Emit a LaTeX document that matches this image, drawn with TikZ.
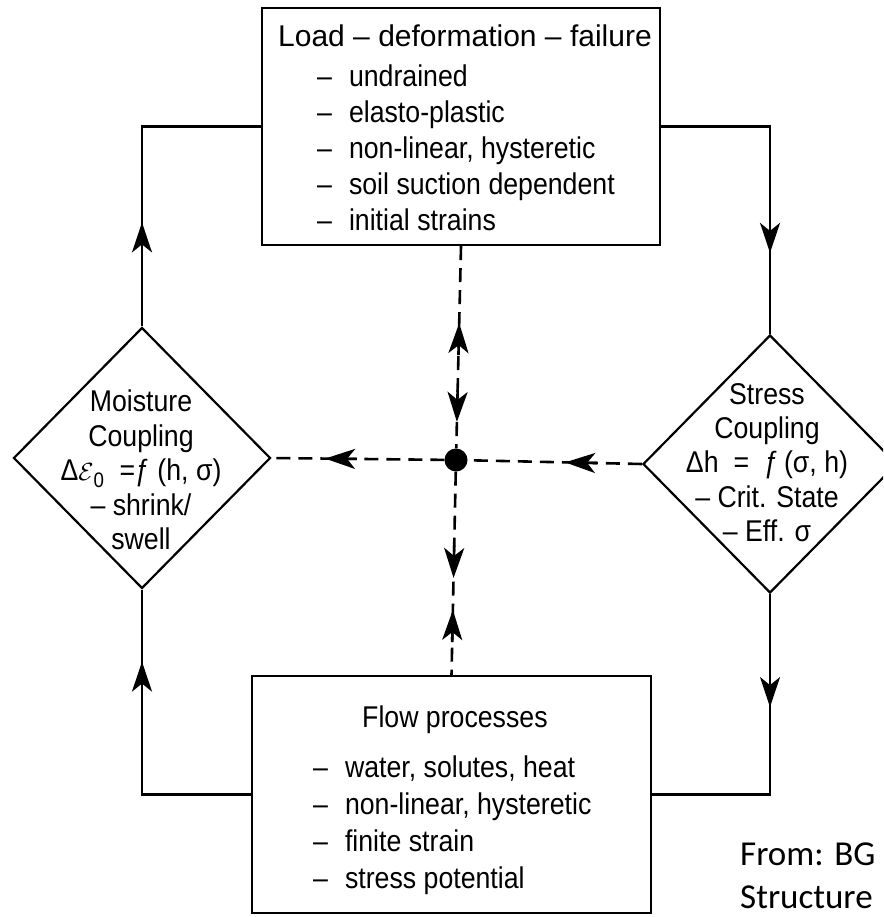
\documentclass[tikz,border=0pt]{standalone}
\usepackage{fontspec}
\setmainfont{Liberation Sans}
\newfontfamily\condf[FakeStretch=0.89]{Liberation Sans}
\newfontfamily\notef{Carlito}
\usetikzlibrary{shapes.geometric,arrows.meta,calc}
\tikzset{
  box/.style={draw, line width=2.2pt, minimum width=398pt, minimum height=237pt, inner sep=0pt},
  dia/.style={draw, diamond, line width=2.2pt, inner sep=0pt},
  conn/.style={line width=2.2pt},
  dconn/.style={line width=2.6pt, dash pattern=on 14pt off 8pt},
  ah/.style={line width=2.2pt, solid, -{Stealth[length=30pt,width=20pt,inset=8pt]}},
  txt/.style={inner sep=0pt, font=\condf\fontsize{30}{36}\selectfont},
}
\begin{document}
\begin{tikzpicture}[x=1pt,y=-1pt]
\useasboundingbox (0,0) rectangle (883,917);
\clip (0,0) rectangle (883,917);
% boxes
\node[box] (load) at (461,126.5) {};
\node[box, minimum width=399pt] (flow) at (451.5,794.5) {};
\node[dia, minimum width=257pt, minimum height=261pt] (mdia) at (142,458) {};
\node[dia, minimum width=254pt, minimum height=258pt] (sdia) at (770,464) {};
\node[circle, fill, minimum size=23pt, inner sep=0pt] (dot) at (456,460) {};
% texts
\node[txt, anchor=north west, align=left] (loadtxt) at (278,25)
 {{\rmfamily Load – deformation – failure}\\[4pt]
  \hspace*{39pt}–\hspace{17pt}undrained\\
  \hspace*{39pt}–\hspace{17pt}elasto-plastic\\
  \hspace*{39pt}–\hspace{17pt}non-linear, hysteretic\\
  \hspace*{39pt}–\hspace{17pt}soil suction dependent\\
  \hspace*{39pt}–\hspace{17pt}initial strains};
\node[txt, font=\condf\fontsize{30}{37}\selectfont, anchor=north west, align=left] (flowtxt) at (313,706)
 {\hspace*{49pt}Flow processes\\[13pt]
  –\hspace{17pt}water, solutes, heat\\
  –\hspace{17pt}non-linear, hysteretic\\
  –\hspace{17pt}finite strain\\
  –\hspace{17pt}stress potential};
\node[txt, font=\condf\fontsize{30}{34.5}\selectfont, anchor=north, align=center] (mtxt) at (141,390)
 {Moisture\\Coupling\\Δ$\mathcal{E}$\textsubscript{0}\enspace=ƒ (h, σ)\\– shrink/\\swell};
\node[txt, font=\condf\fontsize{30}{34.3}\selectfont, anchor=north, align=center] (stxt) at (767,383)
 {Stress\\Coupling\\Δh\enspace=\enspace ƒ\,(σ, h)\\– Crit. State\\– Eff. σ};
\node[inner sep=0pt, anchor=north west, align=left, font=\notef\fontsize{35}{43}\selectfont] (src) at (740,843)
 {From: BG\\Structure};
% solid connectors
\draw[conn] (mdia.north) |- (load.west);
\draw[conn] (load.east) -| (sdia.north);
\draw[conn] (sdia.south) |- (flow.east);
\draw[conn] (flow.west) -| (mdia.south);
% arrowheads on solid connectors
\draw[ah] ($(mdia.north)+(0,-72)$) -- ($(mdia.north)+(0,-104)$);
\draw[ah] ($(sdia.north)+(0,-113)$) -- ($(sdia.north)+(0,-81)$);
\draw[ah] ($(sdia.south)+(0,81)$) -- ($(sdia.south)+(0,113)$);
\draw[ah] ($(mdia.south)+(0,104)$) -- ($(mdia.south)+(0,72)$);
% dashed connectors
\draw[dconn] (load.south) -- (dot);
\draw[dconn] (dot) -- (flow.north);
\draw[dconn] (dot) -- (mdia.east);
\draw[dconn] (sdia.west) -- (dot);
% arrowheads on dashed connectors
\draw[ah, line width=2.6pt] ($(load.south)!0.51!(dot)$) -- ($(load.south)!0.36!(dot)$);
\draw[ah, line width=2.6pt] ($(load.south)!0.672!(dot)$) -- ($(load.south)!0.822!(dot)$);
\draw[ah, line width=2.6pt] ($(dot)!0.40!(flow.north)$) -- ($(dot)!0.549!(flow.north)$);
\draw[ah, line width=2.6pt] ($(dot)!0.847!(flow.north)$) -- ($(dot)!0.698!(flow.north)$);
\draw[ah, line width=2.6pt] ($(dot)!0.538!(mdia.east)$) -- ($(dot)!0.710!(mdia.east)$);
\draw[ah, line width=2.6pt] ($(sdia.west)!0.242!(dot)$) -- ($(sdia.west)!0.413!(dot)$);
\end{tikzpicture}
\end{document}
